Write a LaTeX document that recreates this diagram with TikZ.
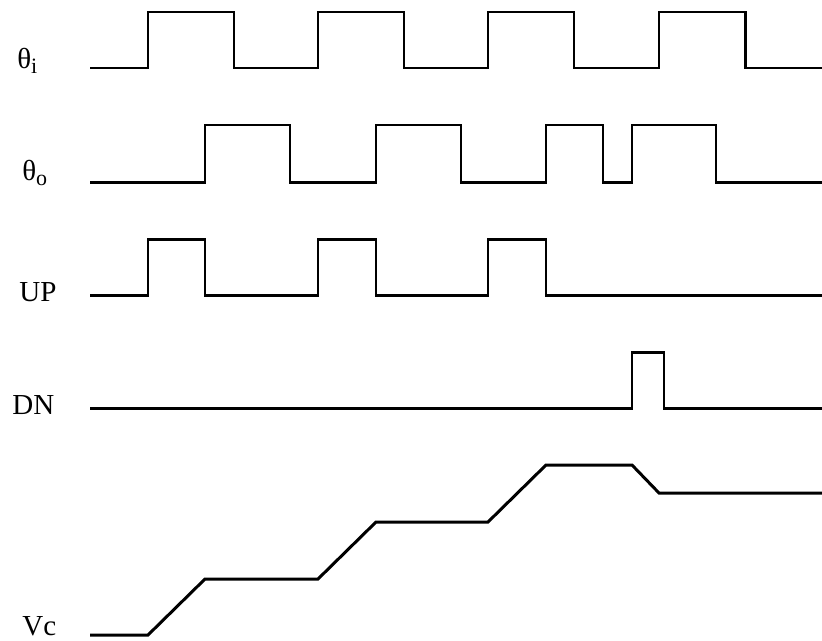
\documentclass[tikz,border=0pt]{standalone}
\usepackage{fontspec}
\setmainfont{Liberation Serif}
\usetikzlibrary{positioning}

\newcommand{\lowsub}[1]{\raisebox{-0.1cm}{\fontsize{12.5}{12}\selectfont #1}}

\begin{document}
\begin{tikzpicture}[x=0.02cm,y=-0.02cm]
            % timing waveforms of the phase detector
            \tikzstyle{wave} = [line width=1.7pt, line join=miter];
            \tikzstyle{sig} = [anchor=base west, inner sep=0pt, font=\fontsize{16.5}{18}\selectfont];

            \useasboundingbox (0,0) rectangle (822,640);

            \node[sig] (thi) at (17,68) {θ\lowsub{i}};
            \node[sig] (tho) at (22,180) {θ\lowsub{o}};
            \node[sig] (up) at (19,301) {UP};
            \node[sig] (dn) at (12,414) {DN};
            \node[sig] (vc) at (22,635) {Vc};

            \coordinate (thi_start) at (90,68);
            \coordinate (tho_start) at (90,182);
            \coordinate (up_start) at (90,295);
            \coordinate (dn_start) at (90,408);
            \coordinate (vc_start) at (90,635);

            \draw[wave] (thi_start) -- (148,68) -- (148,12) -- (234,12) -- (234,68)
            -- (318,68) -- (318,12) -- (404,12) -- (404,68)
            -- (488,68) -- (488,12) -- (574,12) -- (574,68)
            -- (659,68) -- (659,12) -- (745,12) -- (745,68) -- (822,68);

            \draw[wave] (tho_start) -- (205,182) -- (205,125) -- (290,125) -- (290,182)
            -- (376,182) -- (376,125) -- (461,125) -- (461,182)
            -- (546,182) -- (546,125) -- (603,125) -- (603,182)
            -- (632,182) -- (632,125) -- (716,125) -- (716,182) -- (822,182);

            \draw[wave] (up_start) -- (148,295) -- (148,239) -- (205,239) -- (205,295)
            -- (318,295) -- (318,239) -- (376,239) -- (376,295)
            -- (488,295) -- (488,239) -- (546,239) -- (546,295) -- (822,295);

            \draw[wave] (dn_start) -- (632,408) -- (632,352) -- (664,352) -- (664,408) -- (822,408);

            \draw[wave] (vc_start) -- (148,635) -- (205,579) -- (318,579) -- (376,522)
            -- (488,522) -- (546,465) -- (632,465) -- (659,493) -- (822,493);

        \end{tikzpicture}
\end{document}
